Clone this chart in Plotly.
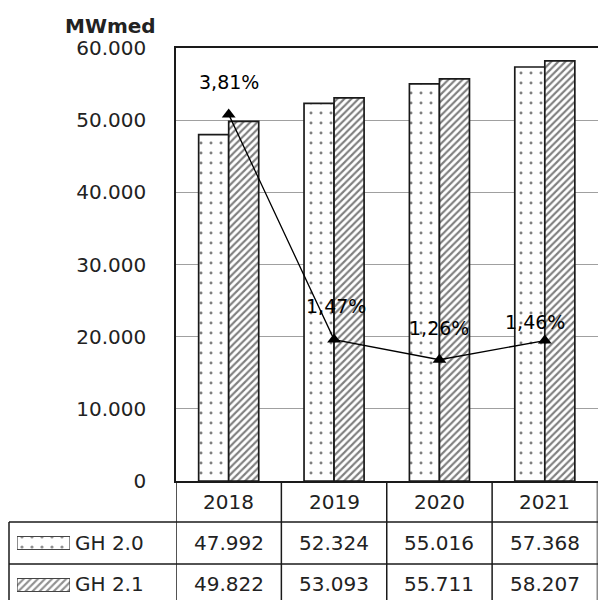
import plotly.graph_objects as go

# Annual load by scenario (MWmed) and growth of GH 2.1
years = ["2018", "2019", "2020", "2021"]
gh20 = [47992, 52324, 55016, 57368]
gh21 = [49822, 53093, 55711, 58207]
growth = [3.81, 1.47, 1.26, 1.46]
series_names = ["GH 2.0", "GH 2.1"]
y_ticks = [0, 10000, 20000, 30000, 40000, 50000, 60000]
unit_label = "MWmed"

W, H = 598, 600
FONT = "DejaVu Sans"
TXT = "#222222"
LINE = "#1a1a1a"


def py(px):
    """pixel row -> paper y"""
    return (H - px) / H


def pxx(px):
    """pixel column -> paper x"""
    return px / W


def fmt_thousands(v):
    return f"{v:,}".replace(",", ".")


def fmt_pct(v):
    return f"{v:.2f}%".replace(".", ",")


xi = list(range(len(years)))

dots = dict(shape=".", size=10, solidity=0.07, fgcolor="#000000", bgcolor="white")
hatch = dict(shape="/", size=5, solidity=0.42, fgcolor="#000000", bgcolor="white")

fig = go.Figure()
fig.add_bar(x=xi, y=gh20, name=series_names[0], showlegend=False,
            marker=dict(color="white", line=dict(color=LINE, width=1.7), pattern=dots))
fig.add_bar(x=xi, y=gh21, name=series_names[1], showlegend=False,
            marker=dict(color="white", line=dict(color=LINE, width=1.7), pattern=hatch))
fig.add_scatter(x=xi, y=growth, yaxis="y2", mode="lines+markers", showlegend=False,
                line=dict(color="black", width=1.3),
                marker=dict(symbol="triangle-up", size=12, color="black"))

# legend keys drawn inside the table's first column
fig.add_bar(x=[1, 1], y=[0, 1], orientation="h", width=0.31, xaxis="x3", yaxis="y3",
            showlegend=False,
            marker=dict(color="white", line=dict(color="#444444", width=1.2),
                        pattern=dict(shape=[".", "/"], size=[10, 5], solidity=[0.08, 0.42],
                                     fgcolor="#222222", bgcolor="white")))

annotations = []
label_dx = [0, 2, 0, -10]
label_dy = [32, 34, 32, 19]
for i, g in enumerate(growth):
    annotations.append(dict(x=xi[i], y=g, xref="x", yref="y2", text=fmt_pct(g),
                            showarrow=False, xshift=label_dx[i], yshift=label_dy[i],
                            xanchor="center", yanchor="middle",
                            font=dict(family=FONT, size=19, color="#000000")))

# data table below the plot
cell = dict(showarrow=False, xanchor="center", yanchor="middle",
            font=dict(family=FONT, size=20, color=TXT))
for i, yr in enumerate(years):
    annotations.append(dict(x=xi[i], y=py(502), xref="x", yref="paper", text=yr, **cell))
    annotations.append(dict(x=xi[i], y=py(543), xref="x", yref="paper",
                            text=fmt_thousands(gh20[i]), **cell))
    annotations.append(dict(x=xi[i], y=py(584), xref="x", yref="paper",
                            text=fmt_thousands(gh21[i]), **cell))
for name, row in zip(series_names, [543, 584]):
    annotations.append(dict(x=pxx(73), y=py(row), xref="paper", yref="paper", text=name,
                            xanchor="left", yanchor="middle", showarrow=False,
                            font=dict(family=FONT, size=20, color=TXT)))

annotations.append(dict(x=pxx(110), y=py(26), xref="paper", yref="paper",
                        text=f"<b>{unit_label}</b>", showarrow=False,
                        xanchor="center", yanchor="middle",
                        font=dict(family=FONT, size=20, color=TXT)))

shapes = []
for b in [-0.5, 0.5, 1.5, 2.5, 3.5]:
    shapes.append(dict(type="line", xref="x", yref="paper", x0=b, x1=b,
                       y0=py(481), y1=0, line=dict(color=LINE, width=1.5)))
shapes.append(dict(type="line", xref="paper", yref="paper", x0=pxx(9), x1=pxx(9),
                   y0=py(522), y1=0, line=dict(color=LINE, width=1.5)))
for r in [522, 564]:
    shapes.append(dict(type="line", xref="paper", yref="paper", x0=pxx(9), x1=1,
                       y0=py(r), y1=py(r), line=dict(color=LINE, width=1.5)))

fig.update_layout(
    width=W, height=H,
    margin=dict(l=0, r=0, t=0, b=0, autoexpand=False),
    paper_bgcolor="white", plot_bgcolor="white",
    separators=",.",
    barmode="group", bargap=0.43, bargroupgap=0,
    font=dict(family=FONT, size=20, color=TXT),
    xaxis=dict(domain=[pxx(176), pxx(597.5)], range=[-0.5, 3.5], showticklabels=False,
               showgrid=False, zeroline=False, showline=True, mirror=True,
               linecolor=LINE, linewidth=1.5, ticks="", automargin=False),
    yaxis=dict(domain=[py(481), py(48)], range=[0, 60000], tickvals=y_ticks,
               tickformat=",d", showgrid=True, gridcolor="#a0a0a0", gridwidth=1,
               zeroline=False, showline=True, mirror=True, linecolor=LINE, linewidth=1.5,
               ticks="", ticklabelstandoff=24, automargin=False,
               tickfont=dict(family=FONT, size=20, color=TXT)),
    yaxis2=dict(overlaying="y", range=[0, 4.5], visible=False, automargin=False),
    xaxis3=dict(domain=[pxx(17), pxx(70)], range=[0, 1], visible=False, automargin=False),
    yaxis3=dict(domain=[0, py(522)], range=[1.357, -0.5], visible=False, automargin=False),
    annotations=annotations,
    shapes=shapes,
)

fig.write_html("out.html")
